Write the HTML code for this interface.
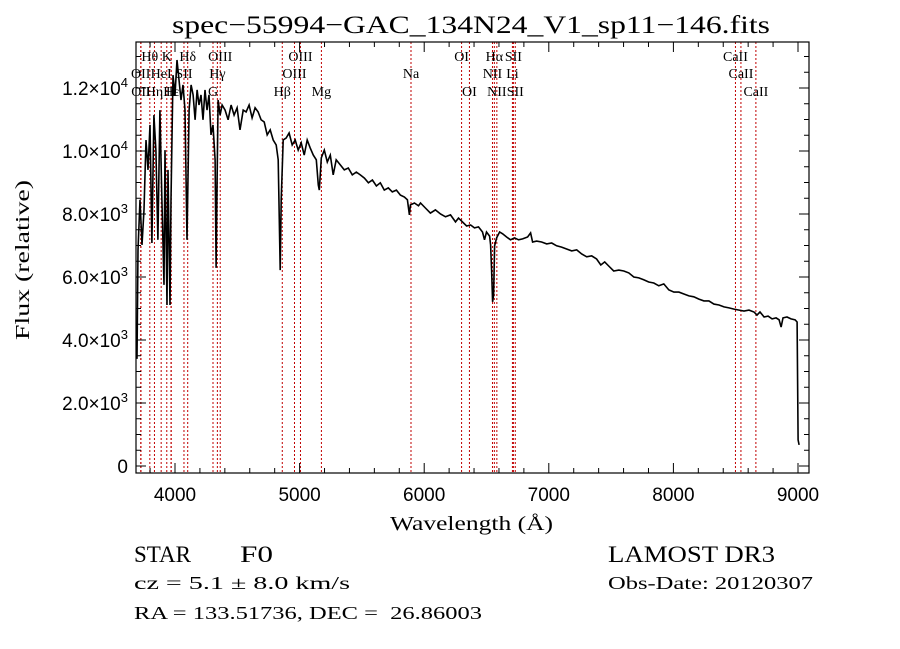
<!DOCTYPE html>
<html><head><meta charset="utf-8"><title>spec-55994-GAC_134N24_V1_sp11-146</title>
<style>
html,body{margin:0;padding:0;background:#fff;}
svg{display:block;}
text{font-family:"Liberation Serif",serif;fill:#000;}
.tk{font-family:"Liberation Sans",sans-serif;font-size:19px;}
</style></head>
<body>
<svg id="chart" width="900" height="649" viewBox="0 0 900 649" xmlns="http://www.w3.org/2000/svg">
<rect width="900" height="649" fill="#fff"/>
<text x="172" y="33" font-size="25" textLength="598" lengthAdjust="spacingAndGlyphs">spec−55994−GAC_134N24_V1_sp11−146.fits</text>
<g id="lines"></g>
<g id="labels"></g>
<path id="spec" fill="none" stroke="#000" stroke-width="1.6" stroke-linejoin="miter"/>
<g id="axes"></g>
<rect x="136" y="42" width="673" height="431" fill="none" stroke="#000" stroke-width="1.2"/>
<text x="390" y="530" font-size="20" textLength="163" lengthAdjust="spacingAndGlyphs" font-family="Liberation Mono">Wavelength (Å)</text>
<text transform="translate(29,340) rotate(-90)" font-size="20" textLength="160" lengthAdjust="spacingAndGlyphs" font-family="Liberation Mono">Flux (relative)</text>
<text x="134" y="562" font-size="23" textLength="57" lengthAdjust="spacingAndGlyphs">STAR</text>
<text x="240" y="562" font-size="23" textLength="33" lengthAdjust="spacingAndGlyphs">F0</text>
<text x="608" y="562" font-size="23" textLength="167" lengthAdjust="spacingAndGlyphs">LAMOST DR3</text>
<text x="134" y="589" font-size="18" textLength="216" lengthAdjust="spacingAndGlyphs">cz = 5.1 ± 8.0 km/s</text>
<text x="608" y="589" font-size="18" textLength="205" lengthAdjust="spacingAndGlyphs">Obs-Date: 20120307</text>
<text x="134" y="619" font-size="18" textLength="348" lengthAdjust="spacingAndGlyphs" xml:space="preserve">RA = 133.51736, DEC =  26.86003</text>
</svg>
<script>
const wavelengths=[3695,3703,3719,3735,3751,3767,3783,3799,3815,3831,3847,3863,3879,3895,3912,3920,3936,3944,3960,3968,3984,4000,4016,4032,4048,4064,4080,4096,4113,4129,4145,4161,4177,4193,4209,4225,4241,4257,4273,4289,4305,4322,4330,4338,4346,4362,4378,4402,4426,4450,4474,4498,4522,4547,4571,4595,4619,4643,4667,4691,4716,4740,4764,4788,4812,4828,4844,4852,4868,4892,4916,4941,4965,4989,5013,5037,5061,5085,5110,5134,5150,5158,5174,5198,5222,5246,5270,5294,5327,5359,5391,5423,5455,5487,5520,5552,5584,5616,5648,5680,5712,5744,5777,5809,5841,5865,5881,5889,5921,5954,5970,6010,6050,6090,6131,6171,6211,6251,6275,6307,6340,6372,6404,6436,6468,6484,6500,6525,6533,6541,6549,6557,6565,6581,6605,6629,6661,6693,6725,6758,6790,6830,6854,6870,6902,6942,6983,7023,7063,7103,7143,7184,7224,7264,7304,7344,7384,7417,7449,7481,7521,7562,7602,7642,7682,7722,7762,7802,7843,7883,7923,7963,8004,8044,8084,8124,8164,8205,8245,8285,8325,8366,8406,8446,8486,8527,8567,8607,8647,8671,8695,8728,8760,8792,8824,8848,8864,8880,8912,8944,8977,8993,9001,9009];
const fluxValues=[3400,6860,8450,7020,8130,10350,9400,10830,7080,11140,10030,7180,11300,8450,5750,10030,5110,9400,5110,8450,12410,11780,12890,12260,11620,12100,11300,7180,11300,12100,11780,10990,11940,11460,11780,10990,11940,11300,11780,10510,10830,9720,6290,9080,11620,11140,11460,11300,10990,11460,11140,11370,10670,11300,11240,11460,11050,11370,11240,10990,10920,10510,10670,10350,10190,9720,6220,8450,10350,10410,10570,10190,10350,10030,10260,9870,10350,10100,9870,9720,8920,8760,9780,10030,9650,9870,9240,9720,9560,9400,9460,9240,9330,9240,9140,8990,9080,8890,8990,8760,8830,8700,8760,8600,8540,8450,7970,8290,8350,8260,8350,8190,8030,8130,8000,7910,7970,7750,7870,7750,7620,7650,7560,7590,7430,7180,7430,7300,7020,6220,5210,5430,6990,7240,7430,7370,7270,7180,7240,7180,7210,7270,7400,7110,7140,7110,7050,7080,6990,6950,6890,6830,6860,6730,6640,6670,6570,6380,6480,6350,6190,6220,6190,6130,6000,5970,5910,5840,5810,5720,5780,5590,5520,5520,5460,5400,5370,5300,5240,5240,5140,5110,5050,5020,4980,4950,4920,4950,4890,4790,4890,4730,4760,4670,4700,4640,4410,4700,4730,4670,4640,4570,830,670];
const lineNames=["OII","OII","Hθ","Hη","HeI","K","H","Hε","SII","Hδ","G","Hγ","OIII","Hβ","OIII","OIII","Mg","Na","OI","OI","NII","Hα","NII","Li","SII","SII","CaII","CaII","CaII"];
const lineWaves=[3725,3727,3798,3835,3889,3934,3968,3970,4072,4102,4305,4340,4363,4861,4959,5007,5175,5894,6300,6363,6548,6563,6583,6708,6716,6731,8498,8542,8662];
const lineRows=[2,3,1,3,2,1,3,3,2,1,3,2,1,3,2,1,3,2,1,3,2,1,3,2,1,3,1,2,3];
const xTickLabels=["4000","5000","6000","7000","8000","9000"];
const xTickValues=[4000,5000,6000,7000,8000,9000];
const yTickValues=[0,2000,4000,6000,8000,10000,12000];
const yTickMant=["0","2.0","4.0","6.0","8.0","1.0","1.2"];
const yTickExp=["","3","3","3","3","4","4"];

const NS="http://www.w3.org/2000/svg";
const L=136,R=809,T=42,B=473;
function xs(w){return 175+(w-4000)*0.1246;}
function ys(f){return 466-f*63/2000;}
function mk(tag,attrs,parent){const e=document.createElementNS(NS,tag);for(const k in attrs)e.setAttribute(k,attrs[k]);parent.appendChild(e);return e;}

let d="";
for(let i=0;i<wavelengths.length;i++){d+=(i?"L":"M")+xs(wavelengths[i]).toFixed(1)+","+Math.min(B,ys(fluxValues[i])).toFixed(1);}
document.getElementById("spec").setAttribute("d",d);

const lg=document.getElementById("lines"),lb=document.getElementById("labels");
const rowY=[0,61,78,96];
for(let i=0;i<lineWaves.length;i++){
  const x=xs(lineWaves[i]);
  const ln=mk("line",{x1:x,x2:x,y1:T,y2:B,stroke:"#c00000","stroke-width":1,"stroke-dasharray":"2,2"},lg);
  
  
  const t=mk("text",{x:x,y:rowY[lineRows[i]],"font-size":14,"text-anchor":"middle"},lb);
  t.textContent=lineNames[i];
  
  
}

const ax=document.getElementById("axes");
for(let w=3800;w<=9000;w+=200){
  const x=xs(w);const major=(w%1000===0);const len=major?10:5;
  const a=mk("line",{x1:x,x2:x,y1:B,y2:B-len,stroke:"#000","stroke-width":1},ax);
  
  
  const b=mk("line",{x1:x,x2:x,y1:T,y2:T+len,stroke:"#000","stroke-width":1},ax);
  
  
}
for(let i=0;i<xTickValues.length;i++){
  const t=mk("text",{x:xs(xTickValues[i]),y:501,"text-anchor":"middle",class:"tk"},ax);
  t.textContent=xTickLabels[i];
  
  
}
for(let f=0;f<=13000;f+=500){
  const y=ys(f);if(y<T)continue;const major=(f%2000===0);const len=major?10:5;
  const a=mk("line",{x1:L,x2:L+len,y1:y,y2:y,stroke:"#000","stroke-width":1},ax);
  
  
  const b=mk("line",{x1:R,x2:R-len,y1:y,y2:y,stroke:"#000","stroke-width":1},ax);
  
  
}
for(let i=0;i<yTickValues.length;i++){
  const y=ys(yTickValues[i]);
  const t=mk("text",{x:128,y:y+7,"text-anchor":"end",class:"tk"},ax);
  
  
  if(yTickExp[i]===""){t.textContent=yTickMant[i];}
  else{
    const m=document.createElementNS(NS,"tspan");m.textContent=yTickMant[i]+"×10";t.appendChild(m);
    const e=document.createElementNS(NS,"tspan");e.setAttribute("font-size","13");e.setAttribute("dy","-8");e.textContent=yTickExp[i];t.appendChild(e);
  }
}
</script>
</body></html>
